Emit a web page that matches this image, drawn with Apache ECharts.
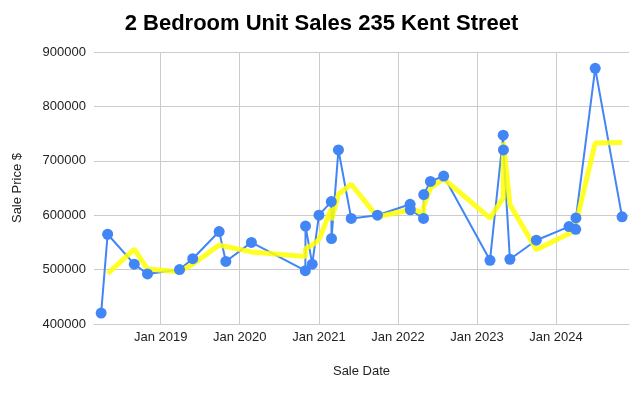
<!DOCTYPE html>
<html>
<head>
<meta charset="utf-8">
<script src="https://cdn.jsdelivr.net/npm/echarts@6/dist/echarts.min.js"></script>
<style>html,body{margin:0;padding:0;background:#fff}#c{width:643px;height:393px}</style>
</head>
<body>
<div id="c"></div>
<script>
const saleDates = ['2018-04-01','2018-05-01','2018-09-01','2018-11-01','2019-03-29','2019-05-29','2019-09-28','2019-10-29','2020-02-24','2020-10-30','2020-10-31','2020-12-01','2021-01-01','2021-02-27','2021-02-28','2021-04-01','2021-05-30','2021-09-28','2022-02-26','2022-02-27','2022-04-29','2022-04-30','2022-05-31','2022-07-31','2023-03-02','2023-05-02','2023-05-03','2023-06-02','2023-10-02','2024-03-01','2024-04-01','2024-04-02','2024-06-30','2024-11-01'];
const salePrices = [420000,565000,510000,492000,500000,520000,570000,515000,550000,498000,580000,510000,600000,625000,557000,720000,594000,600000,620000,610000,594000,638000,662000,672000,517000,747000,720000,519000,554000,579000,574000,595000,870000,597000];
const trendPrices = [null,492500,537500,501000,496000,510000,545000,542500,532500,524000,539000,545000,555000,612500,591000,638500,657000,597000,610000,615000,602000,616000,650000,667000,594500,632000,733500,619500,536500,566500,576500,584500,732500,733500];
const xTickDates = ['2019-01-01','2020-01-01','2021-01-01','2022-01-01','2023-01-01','2024-01-01'];
const xTickLabels = ['Jan 2019','Jan 2020','Jan 2021','Jan 2022','Jan 2023','Jan 2024'];
const xRange = ['2018-02-27','2024-12-03'];
const yTicks = [400000,500000,600000,700000,800000,900000];

function ts(s){const p=s.split('-').map(Number);return Date.UTC(p[0],p[1]-1,p[2]);}
const tickTs = xTickDates.map(ts);
const blueData = saleDates.map((d,i)=>[ts(d),salePrices[i]]);
const yellowData = saleDates.map((d,i)=>[ts(d),trendPrices[i]]).filter(p=>p[1]!==null);

const chart = echarts.init(document.getElementById('c'), null, {renderer:'canvas'});
chart.setOption({
  animation:false,
  backgroundColor:'#fff',
  title:{text:'2 Bedroom Unit Sales 235 Kent Street',left:'center',top:8,
    textStyle:{fontFamily:'Arial, "Liberation Sans"',fontWeight:'bold',fontSize:22,color:'#000'}},
  grid:{left:94,right:14,top:52,bottom:69,containLabel:false},
  xAxis:{type:'value',min:ts(xRange[0]),max:ts(xRange[1]),
    name:'Sale Date',nameLocation:'middle',nameGap:41,
    nameTextStyle:{fontFamily:'Arial',fontSize:13,color:'#222'},
    axisLine:{show:true,lineStyle:{color:'#ccc',width:1}},
    axisTick:{show:false,customValues:tickTs},
    axisLabel:{customValues:tickTs,margin:7,fontFamily:'Arial',fontSize:13,color:'#222',
      formatter:v=>{const i=tickTs.indexOf(v);return i>=0?xTickLabels[i]:'';}},
    splitLine:{show:true,lineStyle:{color:'#ccc',width:1}}
  },
  yAxis:{type:'value',min:yTicks[0],max:yTicks[yTicks.length-1],interval:100000,
    name:'Sale Price $',nameLocation:'middle',nameGap:70,nameRotate:90,
    nameTextStyle:{fontFamily:'Arial',fontSize:13,color:'#222'},
    axisLine:{show:false},axisTick:{show:false},
    axisLabel:{margin:8,fontFamily:'Arial',fontSize:13,color:'#222',formatter:v=>String(v)},
    splitLine:{lineStyle:{color:'#ccc',width:1}}
  },
  series:[
    {type:'line',data:blueData,showSymbol:false,symbol:'none',z:2,
      lineStyle:{color:'#4285f4',width:2},itemStyle:{color:'#4285f4'}},
    {type:'line',data:yellowData,symbol:'none',z:3,
      lineStyle:{color:'#ffff00',width:5,opacity:0.85}},
    {type:'scatter',data:blueData,symbol:'circle',symbolSize:11,z:4,
      itemStyle:{color:'#4285f4',opacity:1}}
  ]
});
</script>
</body>
</html>
